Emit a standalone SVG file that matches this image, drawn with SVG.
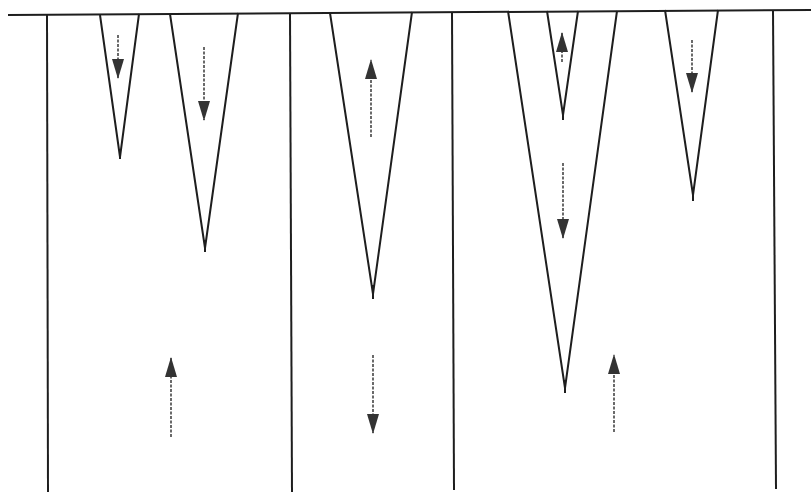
<svg xmlns="http://www.w3.org/2000/svg" width="811" height="501" viewBox="0 0 811 501">
<defs>
<marker id="ah" viewBox="0 0 20 14" refX="19" refY="7" markerWidth="20" markerHeight="14" markerUnits="userSpaceOnUse" orient="auto">
<path d="M0,1 L20,7 L0,13 Z" fill="#333"/>
</marker>
</defs>
<style>
.w{stroke:#1e1e1e;stroke-width:2;fill:none;stroke-linejoin:miter}
.a{stroke:#5a5a5a;stroke-width:1.8;stroke-dasharray:3 1.5;fill:none;marker-end:url(#ah)}
</style>
<rect width="811" height="501" fill="#fff"/>
<g id="frame">
<line class="w" x1="8" y1="15" x2="811" y2="10"/>
<line class="w" x1="47" y1="15" x2="48" y2="492"/>
<line class="w" x1="290" y1="13" x2="292" y2="492"/>
<line class="w" x1="452" y1="12" x2="454" y2="490"/>
<line class="w" x1="773" y1="10" x2="776" y2="489"/>
</g>
<g id="wedges">
<polyline id="v1" class="w" points="100,15 120,157 139,14"/>
<line class="w" x1="120" y1="150" x2="120" y2="159"/>
<polyline id="v2" class="w" points="170,14 205,248 238,13"/>
<line class="w" x1="205" y1="240" x2="205" y2="252"/>
<polyline id="v3" class="w" points="330,13 373,294 412,12"/>
<line class="w" x1="373" y1="285" x2="373" y2="299"/>
<polyline id="v4" class="w" points="508,11 565,388 617,11"/>
<line class="w" x1="565" y1="380" x2="565" y2="393"/>
<polyline id="v5" class="w" points="547,11 563,115 578,11"/>
<line class="w" x1="563" y1="108" x2="563" y2="120"/>
<polyline id="v6" class="w" points="665,10 693,195 718,10"/>
<line class="w" x1="693" y1="188" x2="693" y2="201"/>
</g>
<g id="connectors">
<line class="a" x1="118" y1="35" x2="118" y2="78"/>
<line class="a" x1="204" y1="47" x2="204" y2="120"/>
<line class="a" x1="371" y1="137" x2="371" y2="60"/>
<line class="a" x1="562" y1="62" x2="562" y2="33"/>
<line class="a" x1="563" y1="163" x2="563" y2="238"/>
<line class="a" x1="692" y1="40" x2="692" y2="92"/>
<line class="a" x1="171" y1="437" x2="171" y2="358"/>
<line class="a" x1="373" y1="355" x2="373" y2="433"/>
<line class="a" x1="614" y1="432" x2="614" y2="355"/>
</g>
</svg>
